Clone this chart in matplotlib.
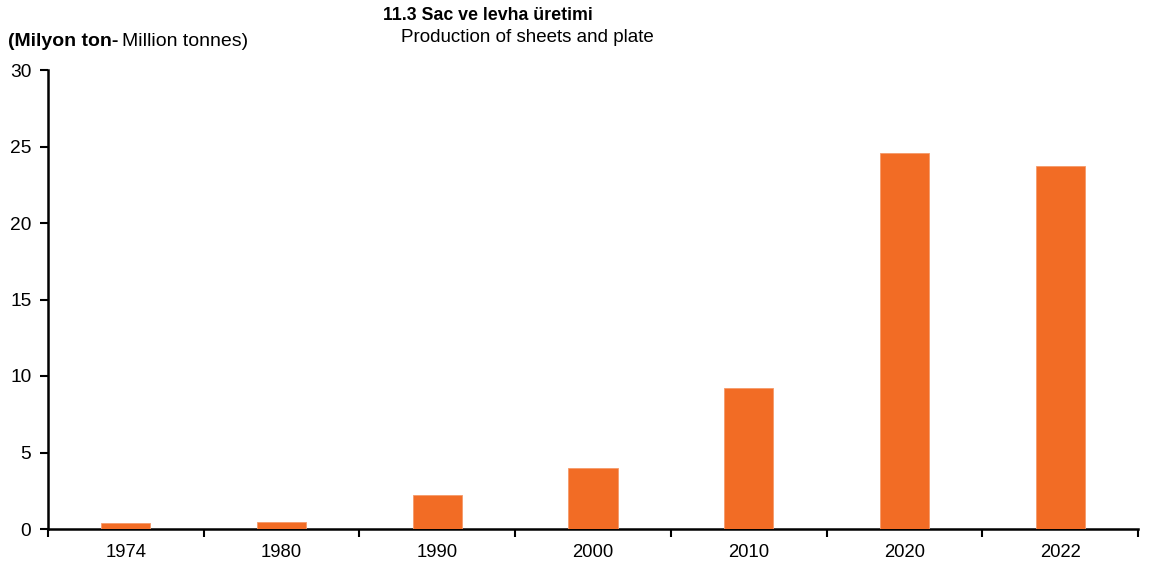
import matplotlib
matplotlib.use('Agg')
import matplotlib.pyplot as plt
import numpy as np

plt.rcParams['font.family'] = ['Liberation Sans', 'DejaVu Sans']

# ── Data ─────────────────────────────────────────────────────────────────────
years = ['1974', '1980', '1990', '2000', '2010', '2020', '2022']
production = [0.37, 0.44, 2.2, 4.0, 9.2, 24.6, 23.7]   # million tonnes

BAR_COLOR = '#F26C25'

fig = plt.figure(figsize=(11.54, 5.72), dpi=100, facecolor='white')
ax = fig.add_axes([48 / 1154, 43 / 572, 1090 / 1154, 459 / 572])

x = np.arange(len(years))
ax.bar(x, production, width=0.315, color=BAR_COLOR, edgecolor='#F59A6A',
       linewidth=0.6, zorder=3)

ax.set_xlim(-0.5, len(years) - 0.5)
ax.set_ylim(0, 30)
ax.set_yticks([0, 5, 10, 15, 20, 25, 30])

# category ticks sit between the bars
ax.set_xticks(np.arange(-0.5, len(years), 1.0))
ax.set_xticklabels([])
ax.set_xticks(x, minor=True)
ax.set_xticklabels(years, minor=True)
ax.tick_params(axis='x', which='major', direction='out', length=6, width=1.5)
ax.tick_params(axis='x', which='minor', length=0, labelsize=13.3, pad=11)
ax.tick_params(axis='y', direction='out', length=6, width=1.5, labelsize=13.8, pad=6)

for side in ['top', 'right']:
    ax.spines[side].set_visible(False)
for side in ['left', 'bottom']:
    ax.spines[side].set_linewidth(1.8)
    ax.spines[side].set_color('black')

# ── Titles ───────────────────────────────────────────────────────────────────
fig.text(383 / 1154, 1 - 15 / 572, '11.3 Sac ve levha üretimi',
         fontsize=12.8, fontweight='bold', va='center', ha='left')
fig.text(401 / 1154, 1 - 37 / 572, 'Production of sheets and plate',
         fontsize=13.5, va='center', ha='left')

unit_bold = fig.text(8 / 1154, 1 - 41 / 572, '(Milyon ton-',
                     fontsize=14, fontweight='bold', va='center', ha='left')
fig.canvas.draw()
bb = unit_bold.get_window_extent()
fig.text(bb.x1 / fig.bbox.width + 4 / 1154, 1 - 41 / 572, 'Million tonnes)',
         fontsize=14, va='center', ha='left')

fig.savefig('out.png', dpi=100, facecolor='white')
